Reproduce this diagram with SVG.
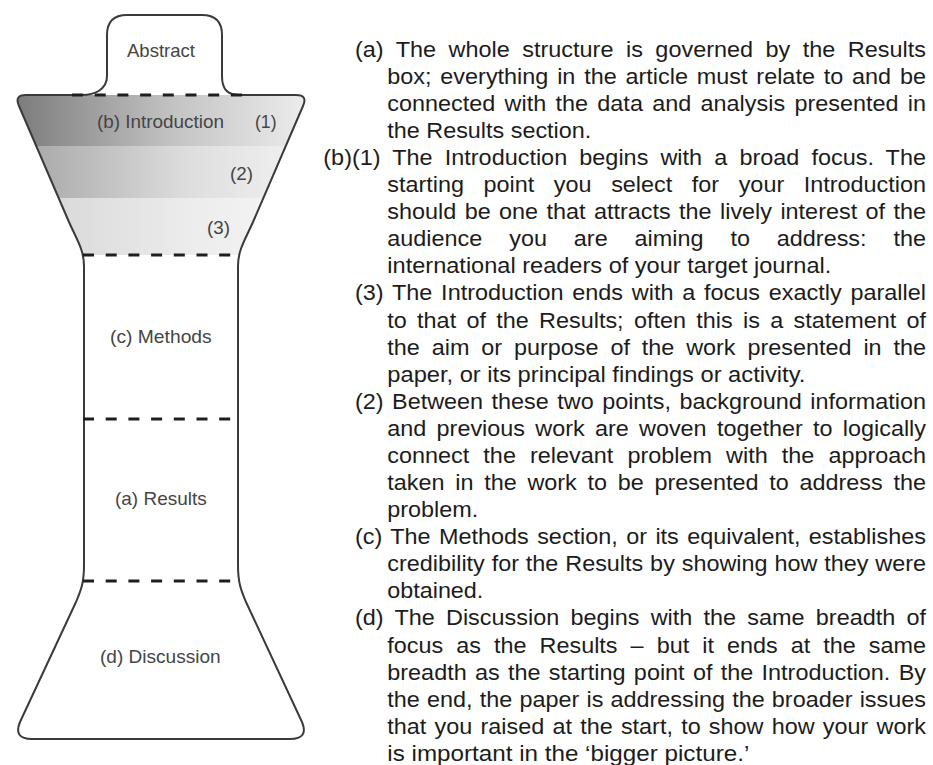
<svg xmlns="http://www.w3.org/2000/svg" width="933" height="765" viewBox="0 0 933 765">
<style>
.lbl{font-family:"Liberation Sans",Arial,sans-serif;font-size:19px;fill:#454545}
.b{font-family:"Liberation Sans",Arial,sans-serif;font-size:21.5px;fill:#1c1c1c}
.outline{fill:none;stroke:#3a3a3a;stroke-width:2;stroke-linejoin:round}
.dash{fill:none;stroke:#1e1e1e;stroke-width:3;stroke-dasharray:11 11.7}
</style>
<defs>
<path id="sil" d="M107 35 Q107 15 127 15 L202 15 Q222 15 222 35 L222 76 C222 90 228 95 240 95 L296 95 Q308 95 303 106 L253 222 C245 240 238 250 238 266 L238 565 C238 585 242 592 246 602 L302 722 Q309 739 290 739 L32 739 Q13 739 20 722 L76 602 C80 592 84 585 84 565 L84 266 C84 250 77 240 69 222 L19 106 Q14 95 26 95 L82 95 C94 95 107 90 107 76 Z"/>
<clipPath id="clip"><use href="#sil"/></clipPath>
<linearGradient id="g1" gradientUnits="userSpaceOnUse" x1="17" y1="0" x2="305" y2="0"><stop offset="0" stop-color="#7c7c7c"/><stop offset="0.55" stop-color="#c4c4c4"/><stop offset="1" stop-color="#ececec"/></linearGradient>
<linearGradient id="g2" gradientUnits="userSpaceOnUse" x1="17" y1="0" x2="305" y2="0"><stop offset="0" stop-color="#a4a4a4"/><stop offset="0.6" stop-color="#dedede"/><stop offset="1" stop-color="#f2f2f2"/></linearGradient>
<linearGradient id="g3" gradientUnits="userSpaceOnUse" x1="17" y1="0" x2="305" y2="0"><stop offset="0" stop-color="#d4d4d4"/><stop offset="0.6" stop-color="#ececec"/><stop offset="1" stop-color="#f6f6f6"/></linearGradient>
</defs>
<rect width="933" height="765" fill="#ffffff"/>
<g id="abstract">
<text class="lbl" x="161" y="57" text-anchor="middle" textLength="68" lengthAdjust="spacingAndGlyphs">Abstract</text>
</g>
<g id="introduction">
<g clip-path="url(#clip)">
<rect x="0" y="95" width="320" height="51" fill="url(#g1)"/>
<rect x="0" y="146" width="320" height="52" fill="url(#g2)"/>
<rect x="0" y="198" width="320" height="57" fill="url(#g3)"/>
</g>
<text class="lbl" x="97" y="128" textLength="127" lengthAdjust="spacingAndGlyphs">(b) Introduction</text>
<text class="lbl" x="255" y="128" textLength="21.5" lengthAdjust="spacingAndGlyphs">(1)</text>
<text class="lbl" x="230" y="180" textLength="23" lengthAdjust="spacingAndGlyphs">(2)</text>
<text class="lbl" x="207" y="234" textLength="23" lengthAdjust="spacingAndGlyphs">(3)</text>
</g>
<g id="methods">
<text class="lbl" x="110" y="343" textLength="101.7" lengthAdjust="spacingAndGlyphs">(c) Methods</text>
</g>
<g id="results">
<text class="lbl" x="115" y="505" textLength="91.7" lengthAdjust="spacingAndGlyphs">(a) Results</text>
</g>
<g id="discussion">
<text class="lbl" x="100" y="663" textLength="120.7" lengthAdjust="spacingAndGlyphs">(d) Discussion</text>
</g>
<g id="outline-shape">
<use href="#sil" class="outline"/>
</g>
<g id="connectors">
<line class="dash" x1="72" y1="95" x2="252" y2="95"/>
<line class="dash" x1="83" y1="255" x2="238" y2="255"/>
<line class="dash" x1="83" y1="419" x2="238" y2="419"/>
<line class="dash" x1="83" y1="581" x2="238" y2="581"/>
</g>
<g id="notes">
<text class="b" x="355" y="56.7" textLength="571" lengthAdjust="spacingAndGlyphs" style="word-spacing:5.5px">(a) The whole structure is governed by the Results</text>
<text class="b" x="387.3" y="83.8" textLength="538.7" lengthAdjust="spacingAndGlyphs" style="word-spacing:2.15px">box; everything in the article must relate to and be</text>
<text class="b" x="387.3" y="110.9" textLength="538.7" lengthAdjust="spacingAndGlyphs" style="word-spacing:2.58px">connected with the data and analysis presented in</text>
<text class="b" x="387.3" y="137.9" textLength="204" lengthAdjust="spacingAndGlyphs">the Results section.</text>
<text class="b" x="323.3" y="165" textLength="602.7" lengthAdjust="spacingAndGlyphs" style="word-spacing:5.14px">(b)(1) The Introduction begins with a broad focus. The</text>
<text class="b" x="387.3" y="192.1" textLength="538.7" lengthAdjust="spacingAndGlyphs" style="word-spacing:12px">starting point you select for your Introduction</text>
<text class="b" x="387.3" y="219.2" textLength="538.7" lengthAdjust="spacingAndGlyphs" style="word-spacing:1.75px">should be one that attracts the lively interest of the</text>
<text class="b" x="387.3" y="246.3" textLength="538.7" lengthAdjust="spacingAndGlyphs" style="word-spacing:18.75px">audience you are aiming to address: the</text>
<text class="b" x="387.3" y="273.3" textLength="444" lengthAdjust="spacingAndGlyphs">international readers of your target journal.</text>
<text class="b" x="355" y="300.4" textLength="571" lengthAdjust="spacingAndGlyphs" style="word-spacing:2.1px">(3) The Introduction ends with a focus exactly parallel</text>
<text class="b" x="387.3" y="327.5" textLength="538.7" lengthAdjust="spacingAndGlyphs" style="word-spacing:3.49px">to that of the Results; often this is a statement of</text>
<text class="b" x="387.3" y="354.6" textLength="538.7" lengthAdjust="spacingAndGlyphs" style="word-spacing:4.94px">the aim or purpose of the work presented in the</text>
<text class="b" x="387.3" y="381.7" textLength="418" lengthAdjust="spacingAndGlyphs">paper, or its principal findings or activity.</text>
<text class="b" x="355" y="408.7" textLength="571" lengthAdjust="spacingAndGlyphs" style="word-spacing:1.8px">(2) Between these two points, background information</text>
<text class="b" x="387.3" y="435.8" textLength="538.7" lengthAdjust="spacingAndGlyphs" style="word-spacing:3.45px">and previous work are woven together to logically</text>
<text class="b" x="387.3" y="462.9" textLength="538.7" lengthAdjust="spacingAndGlyphs" style="word-spacing:7px">connect the relevant problem with the approach</text>
<text class="b" x="387.3" y="490" textLength="538.7" lengthAdjust="spacingAndGlyphs" style="word-spacing:3.87px">taken in the work to be presented to address the</text>
<text class="b" x="387.3" y="517.1" textLength="91" lengthAdjust="spacingAndGlyphs">problem.</text>
<text class="b" x="355" y="544.1" textLength="571" lengthAdjust="spacingAndGlyphs" style="word-spacing:1.71px">(c) The Methods section, or its equivalent, establishes</text>
<text class="b" x="387.3" y="571.2" textLength="538.7" lengthAdjust="spacingAndGlyphs" style="word-spacing:0.34px">credibility for the Results by showing how they were</text>
<text class="b" x="387.3" y="598.3" textLength="96" lengthAdjust="spacingAndGlyphs">obtained.</text>
<text class="b" x="355" y="625.4" textLength="571" lengthAdjust="spacingAndGlyphs" style="word-spacing:4.34px">(d) The Discussion begins with the same breadth of</text>
<text class="b" x="387.3" y="652.5" textLength="538.7" lengthAdjust="spacingAndGlyphs" style="word-spacing:6px">focus as the Results – but it ends at the same</text>
<text class="b" x="387.3" y="679.5" textLength="538.7" lengthAdjust="spacingAndGlyphs" style="word-spacing:1.66px">breadth as the starting point of the Introduction. By</text>
<text class="b" x="387.3" y="706.6" textLength="538.7" lengthAdjust="spacingAndGlyphs" style="word-spacing:0.63px">the end, the paper is addressing the broader issues</text>
<text class="b" x="387.3" y="733.7" textLength="538.7" lengthAdjust="spacingAndGlyphs" style="word-spacing:1.58px">that you raised at the start, to show how your work</text>
<text class="b" x="387.3" y="760.8" textLength="362" lengthAdjust="spacingAndGlyphs">is important in the ‘bigger picture.’</text>
</g>
</svg>
